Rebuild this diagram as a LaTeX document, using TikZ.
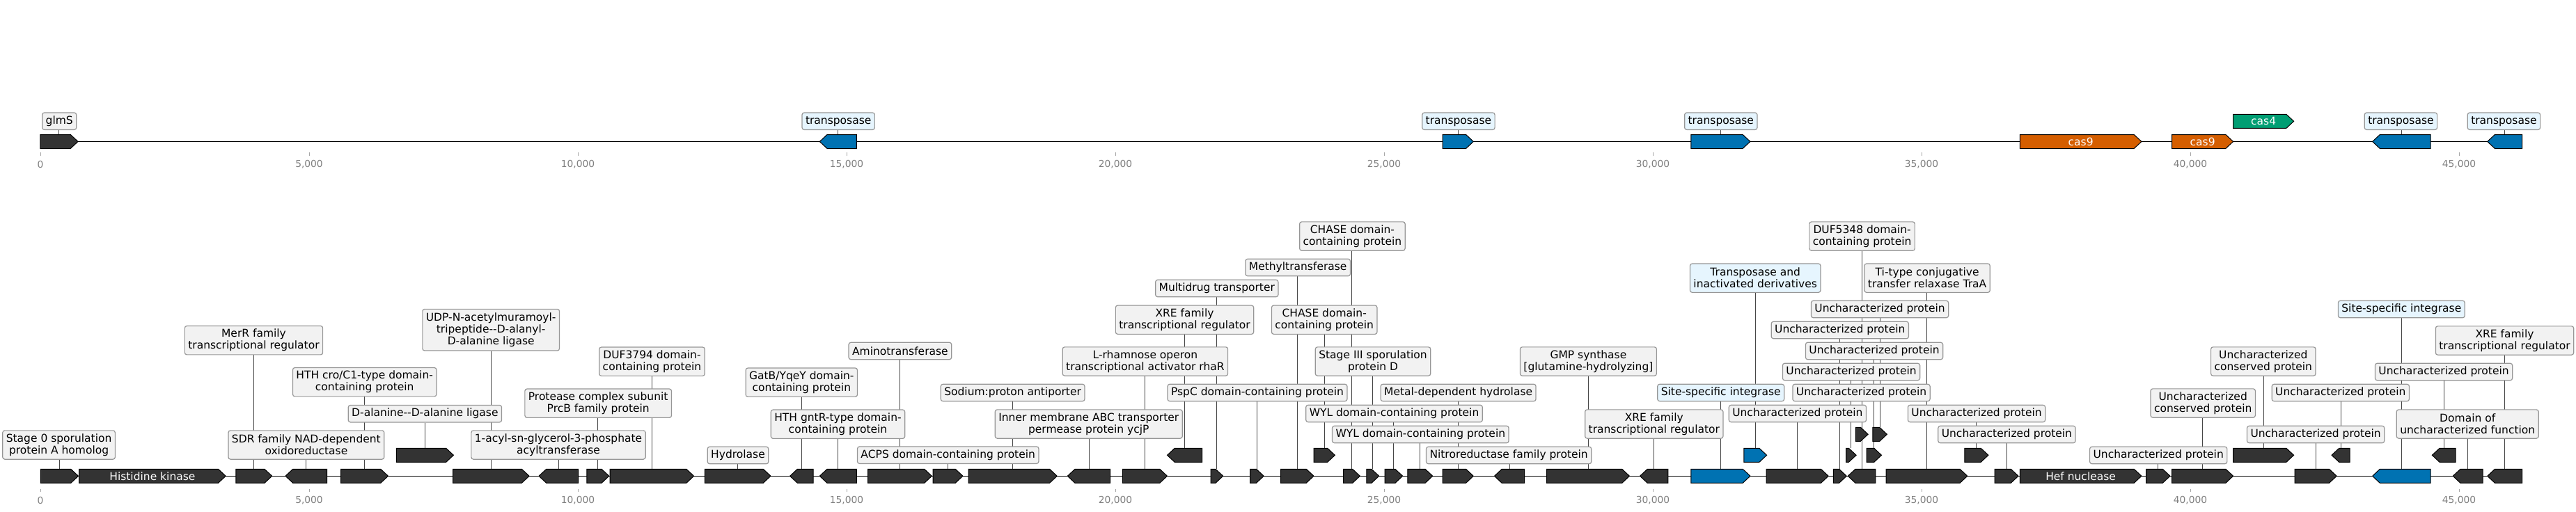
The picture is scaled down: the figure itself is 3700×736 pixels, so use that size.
\documentclass[tikz,border=0pt]{standalone}
\usepackage{fontspec}
\setmainfont{DejaVu Sans}
\usetikzlibrary{backgrounds}
\definecolor{gdark}{RGB}{51,51,51}
\definecolor{gblue}{RGB}{0,114,178}
\definecolor{gorange}{RGB}{213,94,0}
\definecolor{ggreen}{RGB}{0,158,115}
\definecolor{boxfill}{RGB}{242,242,242}
\definecolor{boxblue}{RGB}{230,245,254}
\definecolor{boxedge}{RGB}{150,150,150}
\definecolor{conncol}{RGB}{70,70,70}
\definecolor{tickcol}{RGB}{128,128,128}
\tikzset{
  lab/.style={draw=boxedge, fill=boxfill, line width=1.2pt, rounded corners=3pt,
    inner xsep=5pt, inner ysep=1pt, align=center, font=\fontsize{15.5}{17}\selectfont},
  labA/.style={lab, minimum height=24.4pt},
  labB/.style={lab, minimum height=41.3pt},
  labC/.style={lab, minimum height=59.7pt},
  tp/.style={fill=boxblue},
  conn/.style={draw=conncol, line width=0.9pt},
  gene/.style={draw=black, line width=1pt, line join=miter},
  track/.style={draw=black, line width=1.6pt},
  tickmark/.style={draw=tickcol!70, line width=1pt},
  ticklab/.style={text=tickcol, font=\fontsize{13.8}{16}\selectfont, inner sep=0pt},
  intext/.style={text=white, font=\fontsize{15.5}{17}\selectfont, inner sep=0pt},
}
\newcommand{\gfwd}[5]{%
  \pgfmathsetmacro{\gHX}{max(#2,#3-10.7)}%
  \draw[gene,fill=#5] (#2,#4-10) -- (\gHX,#4-10) -- (#3,#4) -- (\gHX,#4+10) -- (#2,#4+10) -- cycle;
  \coordinate (#1) at ({(#2+#3)/2},#4-10);
}
\newcommand{\grev}[5]{%
  \pgfmathsetmacro{\gHX}{min(#3,#2+10.7)}%
  \draw[gene,fill=#5] (#3,#4-10) -- (\gHX,#4-10) -- (#2,#4) -- (\gHX,#4+10) -- (#3,#4+10) -- cycle;
  \coordinate (#1) at ({(#2+#3)/2},#4-10);
}
\begin{document}
\begin{tikzpicture}[x=1pt,y=-1pt]
\useasboundingbox (0,0) rectangle (3700,736);
% ---------- track lines ----------
\coordinate (ts) at (58.3,203.5);
\coordinate (te) at (3622.7,203.5);
\coordinate (bs) at (58.3,684.3);
\coordinate (be) at (3622.7,684.3);
% ---------- ticks ----------
\foreach \v/\t in {0/0,5/{5,000},10/{10,000},15/{15,000},20/{20,000},25/{25,000},30/{30,000},35/{35,000},40/{40,000},45/{45,000}}{
  \draw[tickmark] ({58+77.2*\v},219.3) -- ({58+77.2*\v},224);
  \node[ticklab] at ({58+77.2*\v},236.5) {\t};
  \draw[tickmark] ({58+77.2*\v},702.7) -- ({58+77.2*\v},707.2);
  \node[ticklab] at ({58+77.2*\v},719) {\t};
}
% ---------- top track labels ----------
\node[labA] (T1) at (85.2,174.2) {glmS};
\node[labA,tp] (T2) at (1204.2,174.2) {transposase};
\node[labA,tp] (T3) at (2094.9,174.2) {transposase};
\node[labA,tp] (T4) at (2471.8,174.2) {transposase};
\node[labA,tp] (T8) at (3448.4,174.2) {transposase};
\node[labA,tp] (T9) at (3596.4,174.2) {transposase};
% ---------- top track genes ----------
\gfwd{t1}{57.8}{112}{203.5}{gdark}
\grev{t2}{1177.3}{1230.4}{203.5}{gblue}
\gfwd{t3}{2072}{2116.3}{203.5}{gblue}
\gfwd{t4}{2428.9}{2513.9}{203.5}{gblue}
\gfwd{t5}{2901.4}{3075.9}{203.5}{gorange}
\gfwd{t6}{3119.6}{3207.6}{203.5}{gorange}
\gfwd{t7}{3207.6}{3294.6}{174.3}{ggreen}
\grev{t8}{3407.6}{3491}{203.5}{gblue}
\grev{t9}{3572.7}{3622.7}{203.5}{gblue}
\node[intext] (t5n) at (2988.6,203.5) {cas9};
\node[intext] (t6n) at (3163.6,203.5) {cas9};
\node[intext] (t7n) at (3251.1,174.3) {cas4};
% ---------- bottom track labels ----------
\node[labB] (L1) at (84.6,639.5) {Stage 0 sporulation\\protein A homolog};
\node[labB] (L3) at (364.5,489.2) {MerR family\\transcriptional regulator};
\node[labB] (L4) at (439.9,639.5) {SDR family NAD-dependent\\oxidoreductase};
\node[labB] (L5) at (523.7,549.2) {HTH cro/C1-type domain-\\containing protein};
\node[labA] (L6) at (610.4,594.7) {D-alanine-{}-D-alanine ligase};
\node[labC] (L7) at (705.2,474.2) {UDP-N-acetylmuramoyl-\\tripeptide-{}-D-alanyl-\\D-alanine ligase};
\node[labB] (L8) at (802,639.5) {1-acyl-sn-glycerol-3-phosphate\\acyltransferase};
\node[labB] (L9) at (859.2,579.7) {Protease complex subunit\\PrcB family protein};
\node[labB] (L10) at (936.5,519.7) {DUF3794 domain-\\containing protein};
\node[labA] (L11) at (1060,654.5) {Hydrolase};
\node[labB] (L12) at (1151.3,549.7) {GatB/YqeY domain-\\containing protein};
\node[labB] (L13) at (1203.5,609.7) {HTH gntR-type domain-\\containing protein};
\node[labA] (L14) at (1292.9,504.5) {Aminotransferase};
\node[labA] (L15) at (1361.7,654.2) {ACPS domain-containing protein};
\node[labA] (L16) at (1454.6,564.5) {Sodium:proton antiporter};
\node[labB] (L17) at (1563.8,609.5) {Inner membrane ABC transporter\\permease protein ycjP};
\node[labB] (L18) at (1644.9,519.5) {L-rhamnose operon\\transcriptional activator rhaR};
\node[labB] (L19) at (1701.5,459.7) {XRE family\\transcriptional regulator};
\node[labA] (L20) at (1747.8,414.5) {Multidrug transporter};
\node[labA] (L21) at (1806,564.5) {PspC domain-containing protein};
\node[labA] (L22) at (1864.2,384.5) {Methyltransferase};
\node[labB] (L23) at (1942.4,339.5) {CHASE domain-\\containing protein};
\node[labB] (L24) at (1902.2,459.7) {CHASE domain-\\containing protein};
\node[labB] (L25) at (1972,519.5) {Stage III sporulation\\protein D};
\node[labA] (L26) at (2002.5,594.5) {WYL domain-containing protein};
\node[labA] (L27) at (2040.3,624.5) {WYL domain-containing protein};
\node[labA] (L28) at (2094.6,564.5) {Metal-dependent hydrolase};
\node[labA] (L29) at (2167.1,654.5) {Nitroreductase family protein};
\node[labB] (L30) at (2281.4,519.5) {GMP synthase\\{[}glutamine-hydrolyzing{]}};
\node[labB] (L31) at (2375.8,609.5) {XRE family\\transcriptional regulator};
\node[labA,tp] (L32) at (2471.7,564.5) {Site-specific integrase};
\node[labB,tp] (L33) at (2521.2,399.7) {Transposase and\\inactivated derivatives};
\node[labA] (L34) at (2581.9,594.5) {Uncharacterized protein};
\node[labA] (L35) at (2642.8,474.5) {Uncharacterized protein};
\node[labA] (L36) at (2673.5,564.5) {Uncharacterized protein};
\node[labA] (L36a) at (2659,534.5) {Uncharacterized protein};
\node[labA] (L36b) at (2692,504.5) {Uncharacterized protein};
\node[labB] (L36c) at (2674.6,339.5) {DUF5348 domain-\\containing protein};
\node[labA] (L36d) at (2700,444.5) {Uncharacterized protein};
\node[labB] (L37) at (2768.1,399.7) {Ti-type conjugative\\transfer relaxase TraA};
\node[labA] (L38) at (2839,594.5) {Uncharacterized protein};
\node[labA] (L39) at (2882.4,624.5) {Uncharacterized protein};
\node[labA] (L41) at (3100.2,654.5) {Uncharacterized protein};
\node[labB] (L42) at (3164.2,579.5) {Uncharacterized\\conserved protein};
\node[labB] (L43) at (3250.8,519.5) {Uncharacterized\\conserved protein};
\node[labA] (L44) at (3326.1,624.5) {Uncharacterized protein};
\node[labA] (L45) at (3361.8,564.5) {Uncharacterized protein};
\node[labA,tp] (L46) at (3449.3,444.5) {Site-specific integrase};
\node[labA] (L47) at (3510,534.5) {Uncharacterized protein};
\node[labB] (L48) at (3544.2,609.5) {Domain of\\uncharacterized function};
\node[labB] (L49) at (3597.5,489.5) {XRE family\\transcriptional regulator};
% ---------- bottom track genes ----------
\gfwd{g1}{58.3}{112.5}{684.3}{gdark}
\gfwd{g2}{113.5}{324.2}{684.3}{gdark}
\gfwd{g3}{338.9}{390.7}{684.3}{gdark}
\grev{g4}{410}{469.7}{684.3}{gdark}
\gfwd{g5}{489.5}{557.5}{684.3}{gdark}
\gfwd{g6}{569.4}{651.4}{654.3}{gdark}
\gfwd{g7}{650.6}{760.1}{684.3}{gdark}
\grev{g8}{774}{830.5}{684.3}{gdark}
\gfwd{g9}{842.8}{874.8}{684.3}{gdark}
\gfwd{g10}{876}{996.6}{684.3}{gdark}
\gfwd{g11}{1012.4}{1107}{684.3}{gdark}
\grev{g12}{1134.6}{1168.2}{684.3}{gdark}
\grev{g13}{1177.3}{1230.4}{684.3}{gdark}
\gfwd{g14}{1246.7}{1338.4}{684.3}{gdark}
\gfwd{g15}{1340}{1383}{684.3}{gdark}
\gfwd{g16}{1391}{1518.3}{684.3}{gdark}
\grev{g17}{1533.3}{1594.6}{684.3}{gdark}
\gfwd{g18}{1612.4}{1676.5}{684.3}{gdark}
\grev{g19}{1676.5}{1726.7}{654.3}{gdark}
\gfwd{g20}{1739}{1756.7}{684.3}{gdark}
\gfwd{g21}{1795.5}{1815.2}{684.3}{gdark}
\gfwd{g22}{1839.5}{1887}{684.3}{gdark}
\gfwd{g23}{1929.7}{1953.4}{684.3}{gdark}
\gfwd{g24}{1887}{1917.4}{654.3}{gdark}
\gfwd{g25}{1962.9}{1980.7}{684.3}{gdark}
\gfwd{g26}{1989}{2014.7}{684.3}{gdark}
\gfwd{g27}{2021.8}{2057.8}{684.3}{gdark}
\gfwd{g28}{2072}{2116.3}{684.3}{gdark}
\grev{g29}{2146.4}{2189.5}{684.3}{gdark}
\gfwd{g30}{2221.5}{2340.5}{684.3}{gdark}
\grev{g31}{2355.5}{2395.8}{684.3}{gdark}
\gfwd{g32}{2428.9}{2513.9}{684.3}{gblue}
\gfwd{g33}{2504.8}{2537.6}{654.3}{gblue}
\gfwd{g34}{2537.2}{2626.2}{684.3}{gdark}
\gfwd{g35}{2633.3}{2652.3}{684.3}{gdark}
\grev{g36}{2654.2}{2693.8}{684.3}{gdark}
\gfwd{g36a}{2651.5}{2666.1}{654.3}{gdark}
\gfwd{g36b}{2681.1}{2702.5}{654.3}{gdark}
\gfwd{g36c}{2665.3}{2683.1}{624.3}{gdark}
\gfwd{g36d}{2689.8}{2710.4}{624.3}{gdark}
\gfwd{g37}{2709.2}{2825.8}{684.3}{gdark}
\gfwd{g38}{2821.9}{2855.9}{654.3}{gdark}
\gfwd{g39}{2865}{2899}{684.3}{gdark}
\gfwd{g40}{2901.4}{3075.9}{684.3}{gdark}
\gfwd{g41}{3082.6}{3117}{684.3}{gdark}
\gfwd{g42}{3119.6}{3207.6}{684.3}{gdark}
\gfwd{g43}{3207.6}{3294.6}{654.3}{gdark}
\gfwd{g44}{3296}{3356.2}{684.3}{gdark}
\grev{g45}{3349}{3375}{654.3}{gdark}
\grev{g46}{3407.6}{3491}{684.3}{gblue}
\grev{g47}{3493.3}{3527.2}{654.3}{gdark}
\grev{g48}{3523.2}{3566}{684.3}{gdark}
\grev{g49}{3572.7}{3622.7}{684.3}{gdark}
\node[intext] (g2n) at (218.9,684.3) {Histidine kinase};
\node[intext] (g40n) at (2988.6,684.3) {Hef nuclease};
% ---------- background: track lines and connectors ----------
\begin{scope}[on background layer]
\draw[track] (ts) -- (te);
\draw[track] (bs) -- (be);
\foreach \g/\l in {t1/T1,t2/T2,t3/T3,t4/T4,t8/T8,t9/T9,
  g1/L1,g3/L3,g4/L4,g5/L5,g6/L6,g7/L7,g8/L8,g9/L9,g10/L10,g11/L11,g12/L12,g13/L13,
  g14/L14,g15/L15,g16/L16,g17/L17,g18/L18,g19/L19,g20/L20,g21/L21,g22/L22,g23/L23,
  g24/L24,g25/L25,g26/L26,g27/L27,g28/L28,g29/L29,g30/L30,g31/L31,g32/L32,g33/L33,
  g34/L34,g35/L35,g36/L36,g36a/L36a,g36b/L36b,g36c/L36c,g36d/L36d,g37/L37,g38/L38,
  g39/L39,g41/L41,g42/L42,g43/L43,g44/L44,g45/L45,g46/L46,g47/L47,g48/L48,g49/L49}{
  \draw[conn] (\g) -- (\g |- \l.south);
}
\end{scope}
\end{tikzpicture}
\end{document}
